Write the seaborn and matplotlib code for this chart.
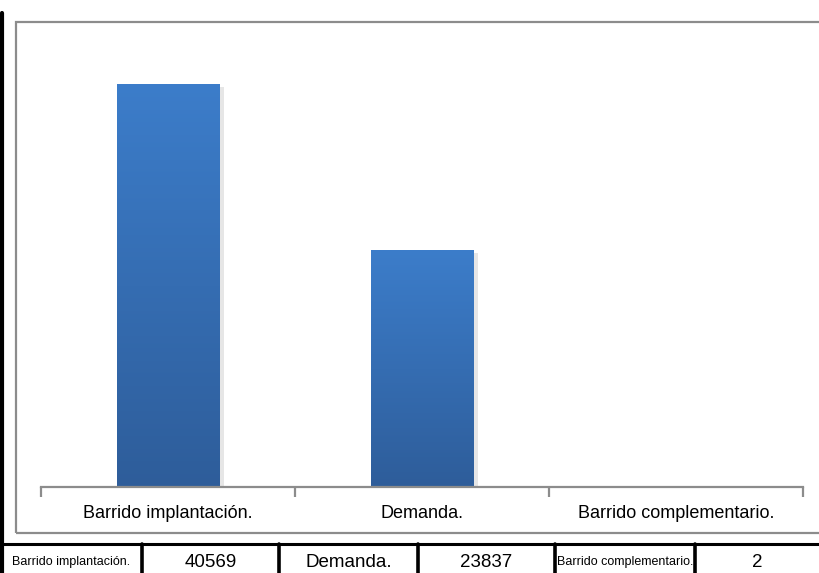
import numpy as np
import pandas as pd
import seaborn as sns
import matplotlib.pyplot as plt
from matplotlib import patheffects
from matplotlib.patches import Rectangle
from matplotlib.lines import Line2D

categories = ["Barrido implantación.", "Demanda.", "Barrido complementario."]
values = [40569, 23837, 2]

sns.set_style("white")
plt.rcParams["font.family"] = ["Liberation Sans Narrow", "Liberation Sans", "DejaVu Sans"]

df = pd.DataFrame({"categoria": categories, "valor": values})

W, H = 819, 573
fig = plt.figure(figsize=(W / 100, H / 100), dpi=100)
fig.patch.set_facecolor("white")

def fx(px):
    return px / W

def fy(py):
    return 1 - py / H

# grey chart frame
fig.add_artist(Rectangle((fx(16), fy(533)), 1.05, fy(22) - fy(533), transform=fig.transFigure,
                         fill=False, edgecolor="#8c8c8c", linewidth=1.6))

ax = fig.add_axes([fx(41), fy(487), fx(803) - fx(41), fy(40) - fy(487)])
sns.barplot(data=df, x="categoria", y="valor", width=0.405, color="#2e5f9e",
            linewidth=0, ax=ax)

# gradient fill + soft shadow for the bars
grad = np.linspace(0, 1, 256).reshape(-1, 1)
cmap = sns.blend_palette(["#2e5d9a", "#3c7dca"], as_cmap=True)
for bar in ax.patches:
    bar.set_path_effects([patheffects.SimplePatchShadow(offset=(3, -2), alpha=0.18, shadow_rgbFace="#777777"),
                          patheffects.Normal()])
    x0, y0 = bar.get_x(), bar.get_y()
    w, h = bar.get_width(), bar.get_height()
    if h <= 0:
        continue
    im = ax.imshow(grad, extent=[x0, x0 + w, y0, y0 + h], origin="lower", aspect="auto",
                   cmap=cmap, zorder=bar.get_zorder() + 0.1)
    im.set_clip_path(bar)
ax.set_aspect("auto")
ax.set_xlim(-0.5, 2.5)
ax.set_ylim(0, 45000)

sns.despine(ax=ax, left=True, top=True, right=True)
ax.spines["bottom"].set_color("#8c8c8c")
ax.spines["bottom"].set_linewidth(1.6)
ax.set_yticks([])
ax.set_xlabel("")
ax.set_ylabel("")
ax.set_xticks(range(len(categories)))
ax.set_xticklabels(categories, fontsize=13, color="black")
ax.tick_params(axis="x", which="major", length=0, pad=13)
ax.set_xticks([-0.5, 0.5, 1.5, 2.5], minor=True)
ax.tick_params(axis="x", which="minor", bottom=True, length=7, width=1.6,
               color="#8c8c8c", direction="out")
ax.patch.set_alpha(0)

# left black border
fig.add_artist(Line2D([fx(1.5), fx(1.5)], [fy(13), 0], transform=fig.transFigure,
                      color="black", linewidth=3))

# data table below chart
table_top = 544
col_edges = [0, 142, 279, 418, 555, 695, 819]
fig.add_artist(Line2D([0, 1], [fy(table_top), fy(table_top)], transform=fig.transFigure,
                      color="black", linewidth=2.2))
for xe in col_edges[1:-1]:
    fig.add_artist(Line2D([fx(xe), fx(xe)], [fy(table_top), 0], transform=fig.transFigure,
                          color="black", linewidth=2.6))

cells = []
for c, v in zip(categories, values):
    cells.append((c, 9 if len(c) > 15 else 13.5))
    cells.append((str(v), 13.5))
for i, (txt, size) in enumerate(cells):
    xc = (col_edges[i] + col_edges[i + 1]) / 2
    fig.text(fx(xc), fy(562.5), txt, ha="center", va="center", fontsize=size, color="black")

fig.savefig("out.png", dpi=100)
